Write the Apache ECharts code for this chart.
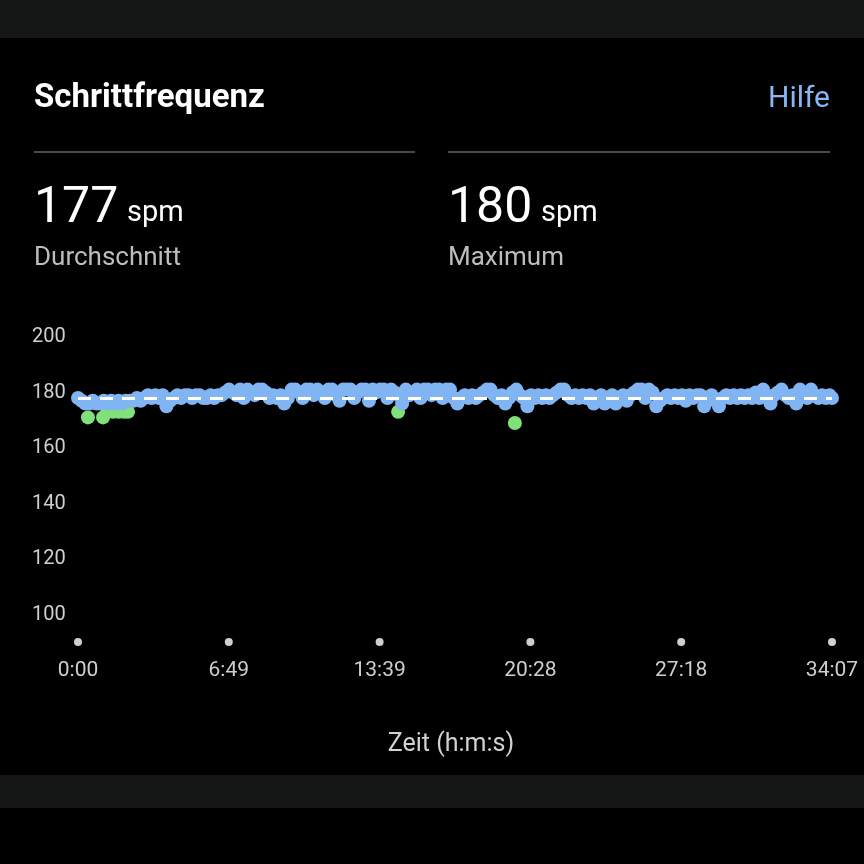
<!DOCTYPE html>
<html><head><meta charset="utf-8">
<script src="https://cdn.jsdelivr.net/npm/echarts@6/dist/echarts.min.js"></script>
<style>html,body{margin:0;padding:0;background:#000;}#c{width:864px;height:864px;}</style>
</head><body><div id="c"></div>
<script>
// ---- data ----
const titleText = 'Schrittfrequenz';
const helpText = 'Hilfe';
const statValues = [177, 180];
const statUnits = ['spm', 'spm'];
const statLabels = ['Durchschnitt', 'Maximum'];
const axisTitle = 'Zeit (h:m:s)';
const yTicks = [100, 120, 140, 160, 180, 200];
const totalSeconds = 2047;          // 34:07
const sampleStep = 10;              // seconds between samples
const cadenceValues = [
  177,176,175,
  175,176,175,175,176,175,176,175,176,175,176,
  176,176,177,176,177,
  178,177,178,177,178,
  174,176,
  177,178,177,178,178,177,178,
  178,177,177,178,177,178,178,179,
  180,179,178,180,177,180,179,178,180,180,179,177,
  178,177,178,175,177,
  180,180,179,177,180,180,178,180,179,
  177,180,180,178,176,180,180,180,177,179,180,180,176,180,179,180,180,177,180,179,
  178,175,
  180,178,179,180,177,180,180,178,180,180,177,180,
  180,177,175,177,
  178,177,178,177,178,
  179,180,180,178,
  177,178,175,177,
  179,180,178,
  177,174,
  178,177,178,177,178,177,178,
  179,180,180,178,177,
  178,177,178,177,
  178,175,177,178,175,176,178,175,177,178,176,
  178,179,180,180,177,180,179,
  174,176,177,
  178,177,178,177,178,176,178,177,178,
  178,174,177,178,176,
  174,177,178,177,
  178,177,178,177,
  178,177,179,177,
  180,178,
  175,178,179,
  180,178,177,178,
  175,180,179,177,180,
  178,177,178,177,178
];
// extra samples between the regular ones
const extraTimes  = [27, 68, 80, 95, 110, 125, 136, 869, 1186, 2047];
const extraValues = [170, 170, 172, 172, 172, 172, 172, 172, 168, 177];
const zoneThreshold = 174; // below -> green zone, else blue zone

// ---- build ----
const points = cadenceValues.map((v, i) => [i * sampleStep, v]);
extraTimes.forEach((t, i) => points.push([t, extraValues[i]]));
const bluePts = points.filter(p => p[1] >= zoneThreshold);
const greenPts = points.filter(p => p[1] < zoneThreshold);

function fmtTime(s) {
  s = Math.round(s);
  const m = Math.floor(s / 60), sec = s % 60;
  return m + ':' + (sec < 10 ? '0' : '') + sec;
}

const FONT = 'Roboto, "Noto Sans", sans-serif';
const chart = echarts.init(document.getElementById('c'), null, {renderer: 'canvas'});
chart.setOption({
  backgroundColor: '#000',
  animation: false,
  grid: {left: 78, right: 32, top: 334, bottom: 252, containLabel: false},
  xAxis: {
    type: 'value', min: 0, max: totalSeconds, interval: totalSeconds / 5,
    offset: 26,
    axisLine: {show: false}, axisTick: {show: false}, splitLine: {show: false},
    axisLabel: {
      margin: 0, showMaxLabel: true, showMinLabel: true,
      formatter: v => '{d|}\n{v|' + fmtTime(v) + '}',
      rich: {
        d: {width: 8, height: 8, lineHeight: 8, backgroundColor: '#cfcfcf', borderRadius: 4},
        v: {fontSize: 21, fontFamily: FONT, color: '#cfcfcf', lineHeight: 50}
      }
    },
    name: axisTitle, nameLocation: 'middle', nameGap: 94,
    nameTextStyle: {fontSize: 25, fontFamily: FONT, color: '#d2d2d2', padding: [0, 8, 0, 0]}
  },
  yAxis: {
    type: 'value', min: yTicks[0], max: yTicks[yTicks.length - 1], interval: 20,
    axisLine: {show: false}, axisTick: {show: false}, splitLine: {show: false},
    axisLabel: {align: 'left', verticalAlign: 'top', lineHeight: 6, margin: 46, fontSize: 20, fontFamily: FONT, color: '#cfcfcf'}
  },
  series: [
    {
      type: 'scatter', data: greenPts, symbolSize: 14,
      itemStyle: {color: '#80e07a', opacity: 1}, z: 2
    },
    {
      type: 'scatter', data: bluePts, symbolSize: 14,
      itemStyle: {color: '#80b4f2', opacity: 1}, z: 3,
      markLine: {
        silent: true, symbol: 'none', label: {show: false},
        lineStyle: {color: '#ffffff', width: 3, type: [13, 9], opacity: 1},
        data: [{yAxis: statValues[0]}]
      }
    }
  ],
  graphic: [
    {type: 'rect', shape: {x: 0, y: 0, width: 864, height: 38}, style: {fill: '#151616'}},
    {type: 'rect', shape: {x: 0, y: 775, width: 864, height: 33}, style: {fill: '#151616'}},
    {type: 'text', x: 34, y: 99, style: {text: titleText, font: 'bold 33px ' + FONT, fill: '#ffffff', textVerticalAlign: 'middle'}},
    {type: 'text', x: 830, y: 99, style: {text: helpText, font: '30px ' + FONT, fill: '#8ab6f2', textAlign: 'right', textVerticalAlign: 'middle'}},
    {type: 'line', shape: {x1: 34, y1: 152, x2: 415, y2: 152}, style: {stroke: '#4a4a4a', lineWidth: 2}},
    {type: 'line', shape: {x1: 448, y1: 152, x2: 830, y2: 152}, style: {stroke: '#4a4a4a', lineWidth: 2}},
    {type: 'text', x: 34, y: 209, style: {text: String(statValues[0]), font: '50px ' + FONT, fill: '#ffffff', textVerticalAlign: 'middle'}},
    {type: 'text', x: 127, y: 214, style: {text: statUnits[0], font: '29px ' + FONT, fill: '#ffffff', textVerticalAlign: 'middle'}},
    {type: 'text', x: 34, y: 258, style: {text: statLabels[0], font: '26px ' + FONT, fill: '#bdbdbd', textVerticalAlign: 'middle'}},
    {type: 'text', x: 448, y: 209, style: {text: String(statValues[1]), font: '50px ' + FONT, fill: '#ffffff', textVerticalAlign: 'middle'}},
    {type: 'text', x: 541, y: 214, style: {text: statUnits[1], font: '29px ' + FONT, fill: '#ffffff', textVerticalAlign: 'middle'}},
    {type: 'text', x: 448, y: 258, style: {text: statLabels[1], font: '26px ' + FONT, fill: '#bdbdbd', textVerticalAlign: 'middle'}}
  ]
});
</script>
</body></html>
